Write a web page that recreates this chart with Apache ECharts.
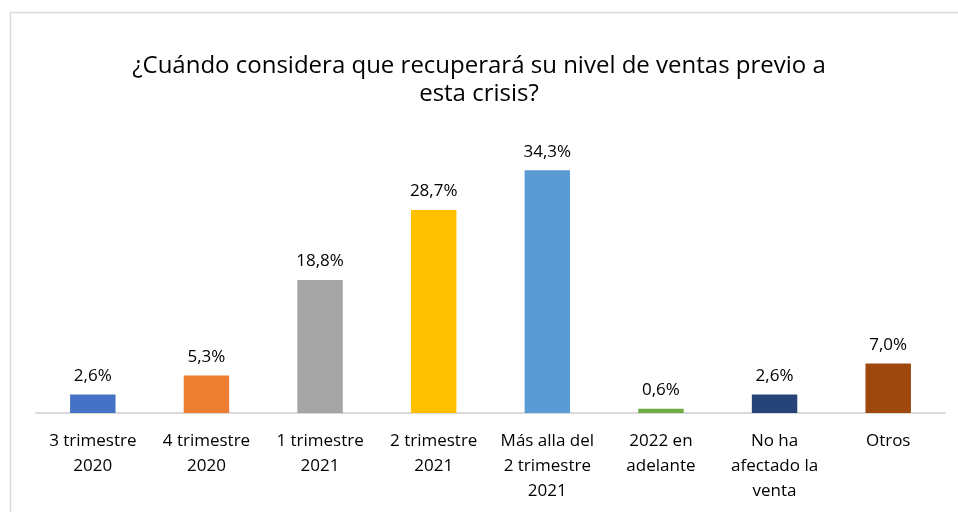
<!DOCTYPE html>
<html>
<head>
<meta charset="utf-8">
<script src="https://cdn.jsdelivr.net/npm/echarts@6/dist/echarts.min.js"></script>
<style>
  html, body { margin: 0; padding: 0; background: #fff; }
  #chart { width: 958px; height: 512px; }
</style>
</head>
<body>
<div id="chart"></div>
<script>
// categorias del eje x
const categories = [
  '3 trimestre\n2020',
  '4 trimestre\n2020',
  '1 trimestre\n2021',
  '2 trimestre\n2021',
  'Más alla del\n2 trimestre\n2021',
  '2022 en\nadelante',
  'No ha\nafectado la\nventa',
  'Otros'
]
// porcentajes
const values = [2.6, 5.3, 18.8, 28.7, 34.3, 0.6, 2.6, 7.0]
const colors = ['#4472C4', '#ED7D31', '#A5A5A5', '#FFC000', '#5B9BD5', '#70AD47', '#264478', '#9E480E']

const font = 'Open Sans'

let chart = echarts.init(document.getElementById('chart'))
chart.setOption({
  animation: false,
  title: {
    text: '¿Cuándo considera que recuperará su nivel de ventas previo a\nesta crisis?',
    left: 'center',
    top: 47,
    textStyle: {
      fontFamily: font,
      fontSize: 24,
      fontWeight: 'normal',
      color: '#000',
      lineHeight: 28
    }
  },
  graphic: [{
    type: 'rect',
    shape: { x: 10.5, y: 12.5, width: 1000, height: 600 },
    style: { fill: 'none', stroke: '#D9D9D9', lineWidth: 1.5 },
    silent: true
  }],
  grid: { left: 36, right: 13, top: 130, bottom: 99 },
  xAxis: {
    type: 'category',
    data: categories,
    axisLine: { lineStyle: { color: '#D9D9D9', width: 2 } },
    axisTick: { show: false },
    axisLabel: {
      interval: 0,
      margin: 16,
      fontFamily: font,
      fontSize: 17,
      lineHeight: 25,
      color: '#000'
    }
  },
  yAxis: {
    type: 'value',
    min: 0,
    max: 40,
    show: false,
    splitLine: { show: false }
  },
  series: [{
    type: 'bar',
    barWidth: '40%',
    data: values.map((v, i) => ({ value: v, itemStyle: { color: colors[i] } })),
    label: {
      show: true,
      position: 'top',
      distance: 10,
      fontFamily: font,
      fontSize: 17,
      color: '#000',
      formatter: p => p.value.toFixed(1).replace('.', ',') + '%'
    }
  }]
})
</script>
</body>
</html>
